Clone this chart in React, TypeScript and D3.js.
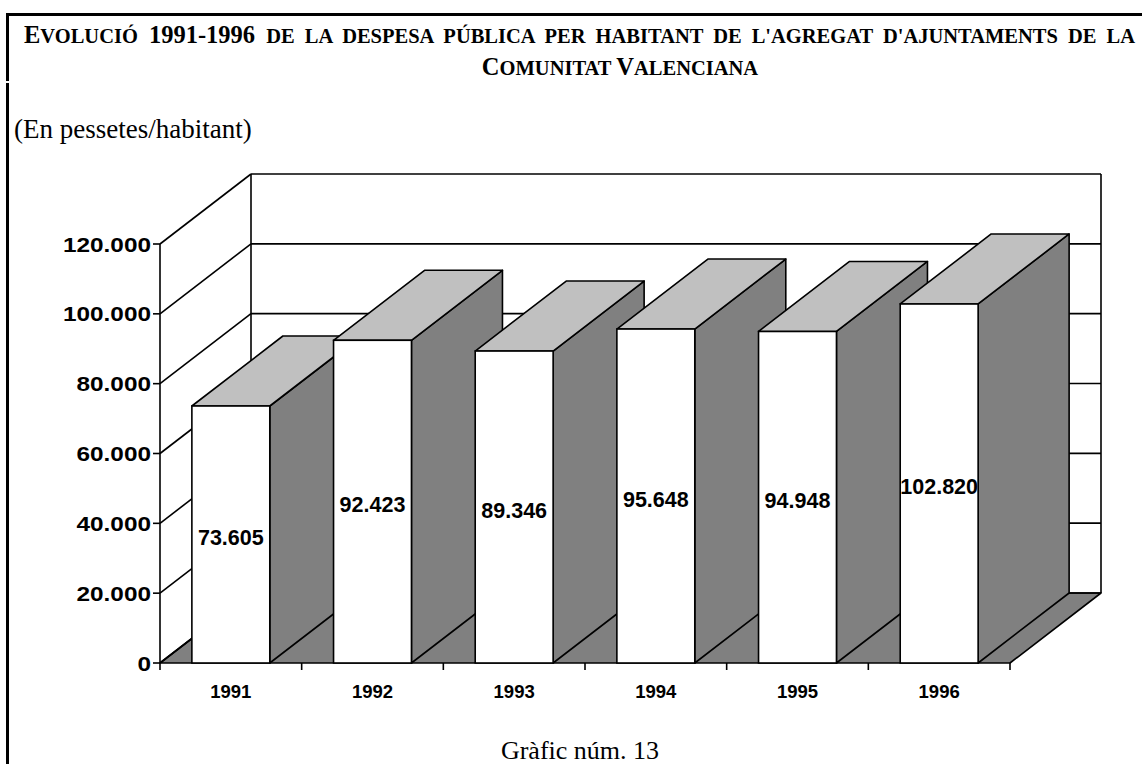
import React, { useEffect, useRef } from "react";
import * as d3 from "d3";

const years = ["1991", "1992", "1993", "1994", "1995", "1996"];
const values = [73605, 92423, 89346, 95648, 94948, 102820];
const yTicks = [0, 20000, 40000, 60000, 80000, 100000, 120000];

const W = 1142;
const H = 764;
const DX = 91;
const DY = -70;

const loc = d3.formatLocale({ decimal: ",", thousands: ".", grouping: [3], currency: ["", ""] });
const fmt = loc.format(",");

export default function App() {
  const titleRef = useRef<SVGTextElement>(null);
  useEffect(() => {
    const el = titleRef.current;
    if (!el) return;
    el.setAttribute("word-spacing", "0");
    const len = el.getComputedTextLength();
    const target = 1135 - 24;
    const spaces = 12;
    const ws = (target - len) / spaces;
    el.setAttribute("word-spacing", String(Math.max(0, ws)));
  }, []);

  const x = d3.scaleBand<string>().domain(years).range([160, 1010]).paddingInner(0).paddingOuter(0);
  const y = d3.scaleLinear().domain([0, 120000]).range([663, 244]);
  const bw = x.bandwidth() * 0.55;
  const y0 = y(0);
  const xl = 160;
  const xr = 1010;
  const stroke = "#000";
  const sw = 1.6;
  const serif = "'Liberation Serif', 'Times New Roman', serif";
  const sans = "'Liberation Sans', Arial, sans-serif";
  const big = 24.5;
  const small = 20.5;

  const pts = (a: number[][]) => a.map((p) => p.join(",")).join(" ");

  return (
    <svg width={W} height={H} style={{ position: "absolute", left: 0, top: 0, background: "#fff" }}>
      {/* frame */}
      <line x1={6} y1={14.5} x2={W} y2={14.5} stroke="#000" strokeWidth={3} />
      <line x1={7.5} y1={13} x2={7.5} y2={81} stroke="#000" strokeWidth={3} />
      <line x1={7.5} y1={83} x2={7.5} y2={H} stroke="#000" strokeWidth={3} />

      {/* title */}
      <text ref={titleRef} x={24} y={43} fontFamily={serif} fontWeight="bold" fill="#000">
        <tspan fontSize={big}>E</tspan>
        <tspan fontSize={small}>VOLUCIÓ</tspan>
        <tspan fontSize={big}> 1991-1996 </tspan>
        <tspan fontSize={small}>DE LA DESPESA PÚBLICA PER HABITANT DE L'AGREGAT D'AJUNTAMENTS DE LA</tspan>
      </text>
      <text x={620} y={75} textAnchor="middle" fontFamily={serif} fontWeight="bold" fill="#000">
        <tspan fontSize={big}>C</tspan>
        <tspan fontSize={small}>OMUNITAT </tspan>
        <tspan fontSize={big}>V</tspan>
        <tspan fontSize={small}>ALENCIANA</tspan>
      </text>
      <text x={14} y={138} fontFamily={serif} fontSize={27} fill="#000">(En pessetes/habitant)</text>
      <text x={580} y={759} textAnchor="middle" fontFamily={serif} fontSize={26} fill="#000">Gràfic núm. 13</text>

      {/* floor */}
      <polygon points={pts([[xl, y0], [xr, y0], [xr + DX, y0 + DY], [xl + DX, y0 + DY]])} fill="#808080" stroke={stroke} strokeWidth={sw} strokeLinejoin="round" />

      {/* back wall gridlines */}
      {yTicks.map((t) => (
        <line key={"bg" + t} x1={xl + DX} x2={xr + DX} y1={y(t) + DY} y2={y(t) + DY} stroke={stroke} strokeWidth={sw} />
      ))}
      {/* side wall diagonals */}
      {yTicks.map((t) => (
        <line key={"sd" + t} x1={xl} x2={xl + DX} y1={y(t)} y2={y(t) + DY} stroke={stroke} strokeWidth={sw} />
      ))}
      <line x1={xl + DX} x2={xl + DX} y1={y(120000) + DY} y2={y0 + DY} stroke={stroke} strokeWidth={sw} />
      <line x1={xr + DX} x2={xr + DX} y1={y(120000) + DY} y2={y0 + DY} stroke={stroke} strokeWidth={sw} />

      {/* y axis */}
      <line x1={xl} x2={xl} y1={y(120000)} y2={y0} stroke={stroke} strokeWidth={sw} />
      {yTicks.map((t) => (
        <g key={"yt" + t}>
          <line x1={xl - 7} x2={xl} y1={y(t)} y2={y(t)} stroke={stroke} strokeWidth={sw} />
          <text transform={`translate(${xl - 9},${y(t)}) scale(1.16,1)`} dy="0.36em" textAnchor="end" fontFamily={sans} fontWeight="bold" fontSize={21} fill="#000">
            {fmt(t)}
          </text>
        </g>
      ))}

      {/* x axis ticks */}
      {[...years.map((c) => x(c) as number), xr].map((v, i) => (
        <line key={"xt" + i} x1={v} x2={v} y1={y0} y2={y0 + 7} stroke={stroke} strokeWidth={sw} />
      ))}
      {years.map((c) => (
        <text key={"xl" + c} x={(x(c) as number) + x.bandwidth() / 2} y={698} textAnchor="middle" fontFamily={sans} fontWeight="bold" fontSize={18.5} fill="#000">
          {c}
        </text>
      ))}

      {/* bars */}
      {years.map((c, i) => {
        const cx = (x(c) as number) + x.bandwidth() / 2;
        const x0 = cx - bw / 2;
        const x1 = cx + bw / 2;
        const yt = y(values[i]);
        return (
          <g key={"b" + c}>
            <polygon points={pts([[x1, yt], [x1 + DX, yt + DY], [x1 + DX, y0 + DY], [x1, y0]])} fill="#808080" stroke={stroke} strokeWidth={sw} strokeLinejoin="round" />
            <polygon points={pts([[x0, yt], [x0 + DX, yt + DY], [x1 + DX, yt + DY], [x1, yt]])} fill="#c0c0c0" stroke={stroke} strokeWidth={sw} strokeLinejoin="round" />
            <rect x={x0} y={yt} width={bw} height={y0 - yt} fill="#fff" stroke={stroke} strokeWidth={sw} />
            <text x={cx} y={(yt + y0) / 2 + 3} dy="0.36em" textAnchor="middle" fontFamily={sans} fontWeight="bold" fontSize={21.5} fill="#000">
              {fmt(values[i])}
            </text>
          </g>
        );
      })}
    </svg>
  );
}
